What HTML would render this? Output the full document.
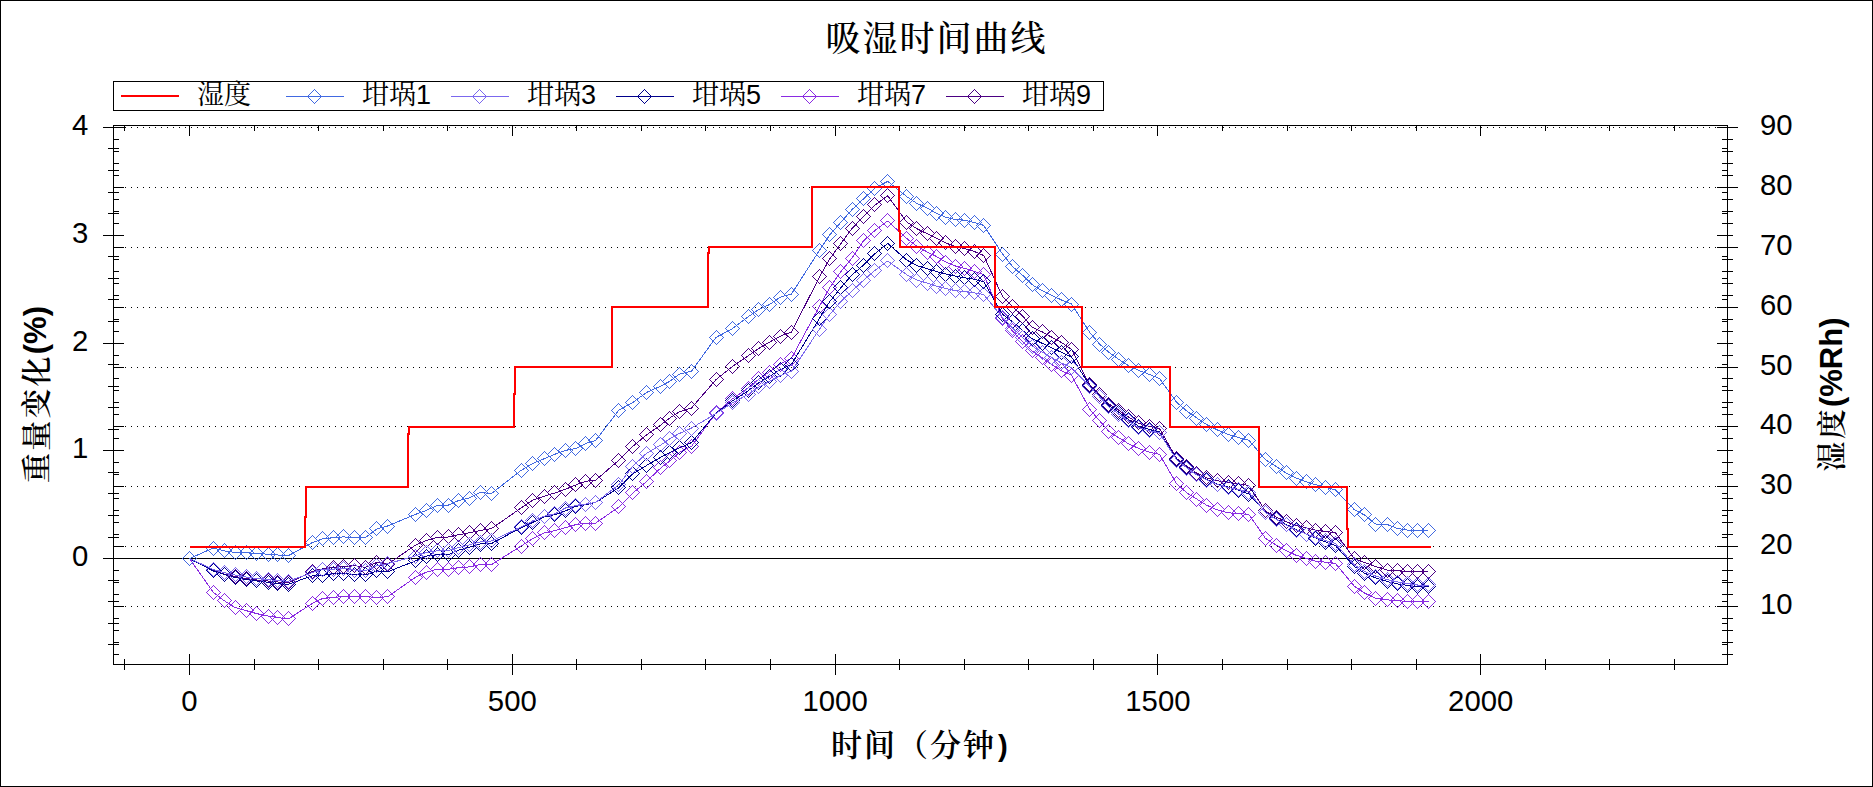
<!DOCTYPE html>
<html lang="zh"><head><meta charset="utf-8"><title>吸湿时间曲线</title>
<style>html,body{margin:0;padding:0;background:#fff;}svg{display:block;}text{font-family:"Liberation Sans","Noto Serif CJK SC",sans-serif;fill:#000;}.ser{font-family:"Liberation Sans","Noto Serif CJK SC",serif;}.ax{stroke:#000;stroke-width:1;fill:none;shape-rendering:crispEdges;}.s{fill:none;stroke-width:1;shape-rendering:crispEdges;}</style></head><body>
<svg width="1873" height="787" viewBox="0 0 1873 787">
<rect x="0" y="0" width="1873" height="787" fill="#fff"/>
<rect x="0.5" y="0.5" width="1872" height="786" class="ax"/>
<text x="825.5" y="51" font-size="35" letter-spacing="2" font-weight="500" class="ser" id="title">吸湿时间曲线</text>
<rect x="113.5" y="81.5" width="990" height="29" class="ax" fill="#fff"/>
<path d="M121 96H179" stroke="#f00" stroke-width="2" shape-rendering="crispEdges"/>
<text x="197" y="104" font-size="27" class="ser lg">湿度</text>
<g class="s" stroke="#4169E1"><path d="M286 96.5H344"/><path d="M307.5 96.5L314.5 89.5L321.5 96.5L314.5 103.5Z"/></g>
<text x="362" y="104" font-size="27" class="ser lg">坩埚1</text>
<g class="s" stroke="#7B68EE"><path d="M451 96.5H509"/><path d="M472.5 96.5L479.5 89.5L486.5 96.5L479.5 103.5Z"/></g>
<text x="527" y="104" font-size="27" class="ser lg">坩埚3</text>
<g class="s" stroke="#00008B"><path d="M616 96.5H674"/><path d="M637.5 96.5L644.5 89.5L651.5 96.5L644.5 103.5Z"/></g>
<text x="692" y="104" font-size="27" class="ser lg">坩埚5</text>
<g class="s" stroke="#8A2BE2"><path d="M781 96.5H839"/><path d="M802.5 96.5L809.5 89.5L816.5 96.5L809.5 103.5Z"/></g>
<text x="857" y="104" font-size="27" class="ser lg">坩埚7</text>
<g class="s" stroke="#4B0082"><path d="M946 96.5H1004"/><path d="M967.5 96.5L974.5 89.5L981.5 96.5L974.5 103.5Z"/></g>
<text x="1022" y="104" font-size="27" class="ser lg">坩埚9</text>
<path d="M125 606.5H1717M125 546.5H1717M125 486.5H1717M125 426.5H1717M125 367.5H1717M125 307.5H1717M125 247.5H1717M125 187.5H1717M125 127.5H1717" class="ax" stroke-dasharray="1 5"/>
<rect x="113.5" y="125.5" width="1614.0" height="539.0" class="ax"/>
<path d="M108 644.5H119M1722 644.5H1728M108 623.5H119M1722 623.5H1728M108 601.5H119M1722 601.5H1728M108 580.5H119M1722 580.5H1728M103 558.5H124M1717 558.5H1728M108 537.5H119M1722 537.5H1728M108 515.5H119M1722 515.5H1728M108 493.5H119M1722 493.5H1728M108 472.5H119M1722 472.5H1728M103 450.5H124M1717 450.5H1728M108 429.5H119M1722 429.5H1728M108 407.5H119M1722 407.5H1728M108 386.5H119M1722 386.5H1728M108 364.5H119M1722 364.5H1728M103 343.5H124M1717 343.5H1728M108 321.5H119M1722 321.5H1728M108 299.5H119M1722 299.5H1728M108 278.5H119M1722 278.5H1728M108 256.5H119M1722 256.5H1728M103 235.5H124M1717 235.5H1728M108 213.5H119M1722 213.5H1728M108 192.5H119M1722 192.5H1728M108 170.5H119M1722 170.5H1728M108 148.5H119M1722 148.5H1728M103 127.5H124M1717 127.5H1728M113 654.5H119M1722 654.5H1733M113 642.5H119M1722 642.5H1733M113 630.5H119M1722 630.5H1733M113 618.5H119M1722 618.5H1733M113 606.5H124M1717 606.5H1738M113 594.5H119M1722 594.5H1733M113 582.5H119M1722 582.5H1733M113 570.5H119M1722 570.5H1733M113 558.5H119M1722 558.5H1733M113 546.5H124M1717 546.5H1738M113 534.5H119M1722 534.5H1733M113 522.5H119M1722 522.5H1733M113 510.5H119M1722 510.5H1733M113 498.5H119M1722 498.5H1733M113 486.5H124M1717 486.5H1738M113 474.5H119M1722 474.5H1733M113 462.5H119M1722 462.5H1733M113 450.5H119M1722 450.5H1733M113 438.5H119M1722 438.5H1733M113 426.5H124M1717 426.5H1738M113 414.5H119M1722 414.5H1733M113 402.5H119M1722 402.5H1733M113 390.5H119M1722 390.5H1733M113 378.5H119M1722 378.5H1733M113 367.5H124M1717 367.5H1738M113 355.5H119M1722 355.5H1733M113 343.5H119M1722 343.5H1733M113 331.5H119M1722 331.5H1733M113 319.5H119M1722 319.5H1733M113 307.5H124M1717 307.5H1738M113 295.5H119M1722 295.5H1733M113 283.5H119M1722 283.5H1733M113 271.5H119M1722 271.5H1733M113 259.5H119M1722 259.5H1733M113 247.5H124M1717 247.5H1738M113 235.5H119M1722 235.5H1733M113 223.5H119M1722 223.5H1733M113 211.5H119M1722 211.5H1733M113 199.5H119M1722 199.5H1733M113 187.5H124M1717 187.5H1738M113 175.5H119M1722 175.5H1733M113 163.5H119M1722 163.5H1733M113 151.5H119M1722 151.5H1733M113 139.5H119M1722 139.5H1733M113 127.5H124M1717 127.5H1738M124.5 659V670M124.5 125V131M189.5 654V675M189.5 125V136M254.5 659V670M254.5 125V131M318.5 659V670M318.5 125V131M383.5 659V670M383.5 125V131M447.5 659V670M447.5 125V131M512.5 654V675M512.5 125V136M576.5 659V670M576.5 125V131M641.5 659V670M641.5 125V131M705.5 659V670M705.5 125V131M770.5 659V670M770.5 125V131M835.5 654V675M835.5 125V136M899.5 659V670M899.5 125V131M964.5 659V670M964.5 125V131M1028.5 659V670M1028.5 125V131M1093.5 659V670M1093.5 125V131M1157.5 654V675M1157.5 125V136M1222.5 659V670M1222.5 125V131M1287.5 659V670M1287.5 125V131M1351.5 659V670M1351.5 125V131M1416.5 659V670M1416.5 125V131M1480.5 654V675M1480.5 125V136M1545.5 659V670M1545.5 125V131M1609.5 659V670M1609.5 125V131M1674.5 659V670M1674.5 125V131" class="ax"/>
<path d="M113 558.5H1728" class="ax"/>
<text x="88.2" y="565.9" font-size="29.3" text-anchor="end">0</text>
<text x="88.2" y="457.9" font-size="29.3" text-anchor="end">1</text>
<text x="88.2" y="350.9" font-size="29.3" text-anchor="end">2</text>
<text x="88.2" y="242.9" font-size="29.3" text-anchor="end">3</text>
<text x="88.2" y="134.9" font-size="29.3" text-anchor="end">4</text>
<text x="1760" y="613.5" font-size="29.3">10</text>
<text x="1760" y="553.5" font-size="29.3">20</text>
<text x="1760" y="493.5" font-size="29.3">30</text>
<text x="1760" y="433.5" font-size="29.3">40</text>
<text x="1760" y="374.5" font-size="29.3">50</text>
<text x="1760" y="314.5" font-size="29.3">60</text>
<text x="1760" y="254.5" font-size="29.3">70</text>
<text x="1760" y="194.5" font-size="29.3">80</text>
<text x="1760" y="134.5" font-size="29.3">90</text>
<text x="189.5" y="711.3" font-size="29.3" text-anchor="middle">0</text>
<text x="512.3" y="711.3" font-size="29.3" text-anchor="middle">500</text>
<text x="835.1" y="711.3" font-size="29.3" text-anchor="middle">1000</text>
<text x="1157.9" y="711.3" font-size="29.3" text-anchor="middle">1500</text>
<text x="1480.7" y="711.3" font-size="29.3" text-anchor="middle">2000</text>
<text x="831" y="756" font-size="31" letter-spacing="2" font-weight="600" class="ser" id="xt">时间（分钟<tspan font-weight="bold" font-size="29.3" letter-spacing="0" dx="2">)</tspan></text>
<text transform="translate(45.5 394.5) rotate(-90)" font-size="30" letter-spacing="2.2" font-weight="600" text-anchor="middle" class="ser" id="ylt"><tspan dy="1">重量变化</tspan><tspan font-weight="bold" font-size="31" letter-spacing="0" dy="-1">(%)</tspan></text>
<text transform="translate(1842 394.5) rotate(-90)" font-size="30" letter-spacing="2.2" font-weight="600" text-anchor="middle" class="ser" id="yrt">湿度<tspan font-weight="bold" font-size="31" letter-spacing="0">(%Rh)</tspan></text>
<g class="s" stroke="#4B0082"><polyline points="189.5,558.5 213.2,570.5 224.2,574.0 235.2,576.5 246.0,578.5 257.0,580.0 268.0,581.0 277.7,582.0 288.3,583.0 312.3,571.4 322.5,569.1 333.3,567.4 343.8,566.5 354.5,565.6 365.4,567.4 376.8,562.5 387.6,564.3 415.2,545.3 426.0,540.7 437.3,537.4 448.2,537.0 458.7,534.7 469.4,532.8 480.1,530.5 491.5,528.6 521.2,507.9 533.0,500.0 544.1,496.2 554.8,493.0 565.4,489.3 575.8,485.0 585.7,481.2 595.6,480.3 619.0,460.1 632.8,446.4 646.5,435.0 661.0,424.8 669.8,418.0 679.3,411.8 691.5,408.0 716.0,379.6 732.3,366.6 748.0,355.9 759.0,348.3 769.3,342.2 780.4,336.1 791.5,332.0 819.5,277.0 829.6,259.0 840.7,243.8 852.0,228.6 863.5,216.4 875.0,205.0 887.7,195.8 906.7,222.0 917.0,228.8 927.3,233.8 936.5,238.4 945.6,243.0 955.5,246.4 965.0,248.6 974.5,251.6 983.7,255.5 1002.5,296.4 1012.5,306.5 1022.6,316.0 1032.0,327.2 1042.0,331.8 1051.6,337.1 1061.3,342.4 1071.5,349.3 1089.8,385.0 1099.7,394.9 1108.9,404.0 1118.6,410.1 1128.4,417.0 1138.3,423.0 1149.5,426.5 1159.5,428.5 1176.7,458.7 1187.0,466.3 1196.8,473.2 1206.6,477.8 1217.1,480.8 1228.2,482.3 1238.4,483.8 1248.8,485.4 1265.5,511.0 1276.5,517.1 1286.0,521.7 1296.0,525.5 1306.2,527.8 1315.8,530.1 1325.6,531.6 1335.3,532.5 1354.3,558.7 1364.5,562.5 1375.5,566.4 1387.7,570.2 1397.6,570.9 1407.6,571.2 1417.5,571.4 1428.5,571.7"/><path d="M182.5 558.5L189.5 551.5L196.5 558.5L189.5 565.5ZM206.5 570.5L213.5 563.5L220.5 570.5L213.5 577.5ZM217.5 574.5L224.5 567.5L231.5 574.5L224.5 581.5ZM228.5 576.5L235.5 569.5L242.5 576.5L235.5 583.5ZM239.5 578.5L246.5 571.5L253.5 578.5L246.5 585.5ZM249.5 580.5L256.5 573.5L263.5 580.5L256.5 587.5ZM261.5 580.5L268.5 573.5L275.5 580.5L268.5 587.5ZM270.5 582.5L277.5 575.5L284.5 582.5L277.5 589.5ZM281.5 582.5L288.5 575.5L295.5 582.5L288.5 589.5ZM305.5 571.5L312.5 564.5L319.5 571.5L312.5 578.5ZM315.5 569.5L322.5 562.5L329.5 569.5L322.5 576.5ZM326.5 567.5L333.5 560.5L340.5 567.5L333.5 574.5ZM336.5 566.5L343.5 559.5L350.5 566.5L343.5 573.5ZM347.5 565.5L354.5 558.5L361.5 565.5L354.5 572.5ZM358.5 567.5L365.5 560.5L372.5 567.5L365.5 574.5ZM369.5 562.5L376.5 555.5L383.5 562.5L376.5 569.5ZM380.5 564.5L387.5 557.5L394.5 564.5L387.5 571.5ZM408.5 545.5L415.5 538.5L422.5 545.5L415.5 552.5ZM419.5 540.5L426.5 533.5L433.5 540.5L426.5 547.5ZM430.5 537.5L437.5 530.5L444.5 537.5L437.5 544.5ZM441.5 536.5L448.5 529.5L455.5 536.5L448.5 543.5ZM451.5 534.5L458.5 527.5L465.5 534.5L458.5 541.5ZM462.5 532.5L469.5 525.5L476.5 532.5L469.5 539.5ZM473.5 530.5L480.5 523.5L487.5 530.5L480.5 537.5ZM484.5 528.5L491.5 521.5L498.5 528.5L491.5 535.5ZM514.5 507.5L521.5 500.5L528.5 507.5L521.5 514.5ZM525.5 500.5L532.5 493.5L539.5 500.5L532.5 507.5ZM537.5 496.5L544.5 489.5L551.5 496.5L544.5 503.5ZM547.5 492.5L554.5 485.5L561.5 492.5L554.5 499.5ZM558.5 489.5L565.5 482.5L572.5 489.5L565.5 496.5ZM568.5 484.5L575.5 477.5L582.5 484.5L575.5 491.5ZM578.5 481.5L585.5 474.5L592.5 481.5L585.5 488.5ZM588.5 480.5L595.5 473.5L602.5 480.5L595.5 487.5ZM611.5 460.5L618.5 453.5L625.5 460.5L618.5 467.5ZM625.5 446.5L632.5 439.5L639.5 446.5L632.5 453.5ZM639.5 434.5L646.5 427.5L653.5 434.5L646.5 441.5ZM653.5 424.5L660.5 417.5L667.5 424.5L660.5 431.5ZM662.5 418.5L669.5 411.5L676.5 418.5L669.5 425.5ZM672.5 411.5L679.5 404.5L686.5 411.5L679.5 418.5ZM684.5 408.5L691.5 401.5L698.5 408.5L691.5 415.5ZM709.5 379.5L716.5 372.5L723.5 379.5L716.5 386.5ZM725.5 366.5L732.5 359.5L739.5 366.5L732.5 373.5ZM741.5 355.5L748.5 348.5L755.5 355.5L748.5 362.5ZM751.5 348.5L758.5 341.5L765.5 348.5L758.5 355.5ZM762.5 342.5L769.5 335.5L776.5 342.5L769.5 349.5ZM773.5 336.5L780.5 329.5L787.5 336.5L780.5 343.5ZM784.5 332.5L791.5 325.5L798.5 332.5L791.5 339.5ZM812.5 276.5L819.5 269.5L826.5 276.5L819.5 283.5ZM822.5 258.5L829.5 251.5L836.5 258.5L829.5 265.5ZM833.5 243.5L840.5 236.5L847.5 243.5L840.5 250.5ZM845.5 228.5L852.5 221.5L859.5 228.5L852.5 235.5ZM856.5 216.5L863.5 209.5L870.5 216.5L863.5 223.5ZM867.5 204.5L874.5 197.5L881.5 204.5L874.5 211.5ZM880.5 195.5L887.5 188.5L894.5 195.5L887.5 202.5ZM899.5 222.5L906.5 215.5L913.5 222.5L906.5 229.5ZM909.5 228.5L916.5 221.5L923.5 228.5L916.5 235.5ZM920.5 233.5L927.5 226.5L934.5 233.5L927.5 240.5ZM929.5 238.5L936.5 231.5L943.5 238.5L936.5 245.5ZM938.5 242.5L945.5 235.5L952.5 242.5L945.5 249.5ZM948.5 246.5L955.5 239.5L962.5 246.5L955.5 253.5ZM957.5 248.5L964.5 241.5L971.5 248.5L964.5 255.5ZM967.5 251.5L974.5 244.5L981.5 251.5L974.5 258.5ZM976.5 255.5L983.5 248.5L990.5 255.5L983.5 262.5ZM995.5 296.5L1002.5 289.5L1009.5 296.5L1002.5 303.5ZM1005.5 306.5L1012.5 299.5L1019.5 306.5L1012.5 313.5ZM1015.5 316.5L1022.5 309.5L1029.5 316.5L1022.5 323.5ZM1025.5 327.5L1032.5 320.5L1039.5 327.5L1032.5 334.5ZM1035.5 331.5L1042.5 324.5L1049.5 331.5L1042.5 338.5ZM1044.5 337.5L1051.5 330.5L1058.5 337.5L1051.5 344.5ZM1054.5 342.5L1061.5 335.5L1068.5 342.5L1061.5 349.5ZM1064.5 349.5L1071.5 342.5L1078.5 349.5L1071.5 356.5ZM1082.5 384.5L1089.5 377.5L1096.5 384.5L1089.5 391.5ZM1092.5 394.5L1099.5 387.5L1106.5 394.5L1099.5 401.5ZM1101.5 404.5L1108.5 397.5L1115.5 404.5L1108.5 411.5ZM1111.5 410.5L1118.5 403.5L1125.5 410.5L1118.5 417.5ZM1121.5 416.5L1128.5 409.5L1135.5 416.5L1128.5 423.5ZM1131.5 422.5L1138.5 415.5L1145.5 422.5L1138.5 429.5ZM1142.5 426.5L1149.5 419.5L1156.5 426.5L1149.5 433.5ZM1152.5 428.5L1159.5 421.5L1166.5 428.5L1159.5 435.5ZM1169.5 458.5L1176.5 451.5L1183.5 458.5L1176.5 465.5ZM1179.5 466.5L1186.5 459.5L1193.5 466.5L1186.5 473.5ZM1189.5 473.5L1196.5 466.5L1203.5 473.5L1196.5 480.5ZM1199.5 477.5L1206.5 470.5L1213.5 477.5L1206.5 484.5ZM1210.5 480.5L1217.5 473.5L1224.5 480.5L1217.5 487.5ZM1221.5 482.5L1228.5 475.5L1235.5 482.5L1228.5 489.5ZM1231.5 483.5L1238.5 476.5L1245.5 483.5L1238.5 490.5ZM1241.5 485.5L1248.5 478.5L1255.5 485.5L1248.5 492.5ZM1258.5 510.5L1265.5 503.5L1272.5 510.5L1265.5 517.5ZM1269.5 517.5L1276.5 510.5L1283.5 517.5L1276.5 524.5ZM1279.5 521.5L1286.5 514.5L1293.5 521.5L1286.5 528.5ZM1289.5 525.5L1296.5 518.5L1303.5 525.5L1296.5 532.5ZM1299.5 527.5L1306.5 520.5L1313.5 527.5L1306.5 534.5ZM1308.5 530.5L1315.5 523.5L1322.5 530.5L1315.5 537.5ZM1318.5 531.5L1325.5 524.5L1332.5 531.5L1325.5 538.5ZM1328.5 532.5L1335.5 525.5L1342.5 532.5L1335.5 539.5ZM1347.5 558.5L1354.5 551.5L1361.5 558.5L1354.5 565.5ZM1357.5 562.5L1364.5 555.5L1371.5 562.5L1364.5 569.5ZM1368.5 566.5L1375.5 559.5L1382.5 566.5L1375.5 573.5ZM1380.5 570.5L1387.5 563.5L1394.5 570.5L1387.5 577.5ZM1390.5 570.5L1397.5 563.5L1404.5 570.5L1397.5 577.5ZM1400.5 571.5L1407.5 564.5L1414.5 571.5L1407.5 578.5ZM1410.5 571.5L1417.5 564.5L1424.5 571.5L1417.5 578.5ZM1421.5 571.5L1428.5 564.5L1435.5 571.5L1428.5 578.5Z"/></g>
<g class="s" stroke="#8A2BE2"><polyline points="189.5,558.5 213.2,592.3 224.2,600.7 235.2,607.6 246.0,610.6 257.0,613.7 268.0,616.0 277.7,617.5 288.3,619.0 312.3,603.4 322.5,598.5 333.3,597.4 343.8,596.5 354.5,596.2 365.4,596.6 376.8,597.4 387.6,596.8 415.2,577.5 426.0,572.3 437.3,569.2 448.2,569.2 458.7,567.7 469.4,566.9 480.1,564.6 491.5,564.6 521.2,546.0 533.0,538.4 544.1,533.0 554.8,530.7 565.4,527.7 575.8,524.6 585.7,523.1 595.6,523.1 619.0,506.9 632.8,493.0 646.5,481.5 661.0,467.8 669.8,460.9 679.3,452.5 691.5,446.4 716.0,413.0 732.3,399.0 748.0,388.0 759.0,379.0 769.3,372.0 780.4,364.0 791.5,358.2 819.5,306.2 829.6,287.9 840.7,271.9 852.0,258.0 863.5,240.8 875.0,230.5 887.7,221.0 906.7,238.5 917.0,246.5 927.3,252.0 936.5,256.5 945.6,262.0 955.5,266.0 965.0,268.5 974.5,271.5 983.7,274.7 1002.5,318.8 1012.5,331.0 1022.6,341.7 1032.0,350.8 1042.0,357.7 1051.6,364.5 1061.3,370.6 1071.5,375.2 1089.8,409.4 1099.7,420.8 1108.9,431.5 1118.6,437.6 1128.4,443.7 1138.3,448.3 1149.5,452.1 1159.5,454.4 1176.7,483.9 1187.0,493.0 1196.8,499.1 1206.6,505.2 1217.1,509.8 1228.2,512.8 1238.4,513.6 1248.8,514.4 1265.5,538.4 1276.5,545.3 1286.0,550.6 1296.0,555.2 1306.2,558.3 1315.8,561.3 1325.6,562.1 1335.3,563.4 1354.3,586.2 1364.5,593.0 1375.5,598.4 1387.7,599.9 1397.6,600.7 1407.6,601.4 1417.5,601.4 1428.5,601.9"/><path d="M182.5 558.5L189.5 551.5L196.5 558.5L189.5 565.5ZM206.5 592.5L213.5 585.5L220.5 592.5L213.5 599.5ZM217.5 600.5L224.5 593.5L231.5 600.5L224.5 607.5ZM228.5 607.5L235.5 600.5L242.5 607.5L235.5 614.5ZM239.5 610.5L246.5 603.5L253.5 610.5L246.5 617.5ZM249.5 613.5L256.5 606.5L263.5 613.5L256.5 620.5ZM261.5 616.5L268.5 609.5L275.5 616.5L268.5 623.5ZM270.5 617.5L277.5 610.5L284.5 617.5L277.5 624.5ZM281.5 618.5L288.5 611.5L295.5 618.5L288.5 625.5ZM305.5 603.5L312.5 596.5L319.5 603.5L312.5 610.5ZM315.5 598.5L322.5 591.5L329.5 598.5L322.5 605.5ZM326.5 597.5L333.5 590.5L340.5 597.5L333.5 604.5ZM336.5 596.5L343.5 589.5L350.5 596.5L343.5 603.5ZM347.5 596.5L354.5 589.5L361.5 596.5L354.5 603.5ZM358.5 596.5L365.5 589.5L372.5 596.5L365.5 603.5ZM369.5 597.5L376.5 590.5L383.5 597.5L376.5 604.5ZM380.5 596.5L387.5 589.5L394.5 596.5L387.5 603.5ZM408.5 577.5L415.5 570.5L422.5 577.5L415.5 584.5ZM419.5 572.5L426.5 565.5L433.5 572.5L426.5 579.5ZM430.5 569.5L437.5 562.5L444.5 569.5L437.5 576.5ZM441.5 569.5L448.5 562.5L455.5 569.5L448.5 576.5ZM451.5 567.5L458.5 560.5L465.5 567.5L458.5 574.5ZM462.5 566.5L469.5 559.5L476.5 566.5L469.5 573.5ZM473.5 564.5L480.5 557.5L487.5 564.5L480.5 571.5ZM484.5 564.5L491.5 557.5L498.5 564.5L491.5 571.5ZM514.5 546.5L521.5 539.5L528.5 546.5L521.5 553.5ZM525.5 538.5L532.5 531.5L539.5 538.5L532.5 545.5ZM537.5 532.5L544.5 525.5L551.5 532.5L544.5 539.5ZM547.5 530.5L554.5 523.5L561.5 530.5L554.5 537.5ZM558.5 527.5L565.5 520.5L572.5 527.5L565.5 534.5ZM568.5 524.5L575.5 517.5L582.5 524.5L575.5 531.5ZM578.5 523.5L585.5 516.5L592.5 523.5L585.5 530.5ZM588.5 523.5L595.5 516.5L602.5 523.5L595.5 530.5ZM611.5 506.5L618.5 499.5L625.5 506.5L618.5 513.5ZM625.5 492.5L632.5 485.5L639.5 492.5L632.5 499.5ZM639.5 481.5L646.5 474.5L653.5 481.5L646.5 488.5ZM653.5 467.5L660.5 460.5L667.5 467.5L660.5 474.5ZM662.5 460.5L669.5 453.5L676.5 460.5L669.5 467.5ZM672.5 452.5L679.5 445.5L686.5 452.5L679.5 459.5ZM684.5 446.5L691.5 439.5L698.5 446.5L691.5 453.5ZM709.5 412.5L716.5 405.5L723.5 412.5L716.5 419.5ZM725.5 398.5L732.5 391.5L739.5 398.5L732.5 405.5ZM741.5 388.5L748.5 381.5L755.5 388.5L748.5 395.5ZM751.5 378.5L758.5 371.5L765.5 378.5L758.5 385.5ZM762.5 372.5L769.5 365.5L776.5 372.5L769.5 379.5ZM773.5 364.5L780.5 357.5L787.5 364.5L780.5 371.5ZM784.5 358.5L791.5 351.5L798.5 358.5L791.5 365.5ZM812.5 306.5L819.5 299.5L826.5 306.5L819.5 313.5ZM822.5 287.5L829.5 280.5L836.5 287.5L829.5 294.5ZM833.5 271.5L840.5 264.5L847.5 271.5L840.5 278.5ZM845.5 258.5L852.5 251.5L859.5 258.5L852.5 265.5ZM856.5 240.5L863.5 233.5L870.5 240.5L863.5 247.5ZM867.5 230.5L874.5 223.5L881.5 230.5L874.5 237.5ZM880.5 220.5L887.5 213.5L894.5 220.5L887.5 227.5ZM899.5 238.5L906.5 231.5L913.5 238.5L906.5 245.5ZM909.5 246.5L916.5 239.5L923.5 246.5L916.5 253.5ZM920.5 252.5L927.5 245.5L934.5 252.5L927.5 259.5ZM929.5 256.5L936.5 249.5L943.5 256.5L936.5 263.5ZM938.5 262.5L945.5 255.5L952.5 262.5L945.5 269.5ZM948.5 266.5L955.5 259.5L962.5 266.5L955.5 273.5ZM957.5 268.5L964.5 261.5L971.5 268.5L964.5 275.5ZM967.5 271.5L974.5 264.5L981.5 271.5L974.5 278.5ZM976.5 274.5L983.5 267.5L990.5 274.5L983.5 281.5ZM995.5 318.5L1002.5 311.5L1009.5 318.5L1002.5 325.5ZM1005.5 330.5L1012.5 323.5L1019.5 330.5L1012.5 337.5ZM1015.5 341.5L1022.5 334.5L1029.5 341.5L1022.5 348.5ZM1025.5 350.5L1032.5 343.5L1039.5 350.5L1032.5 357.5ZM1035.5 357.5L1042.5 350.5L1049.5 357.5L1042.5 364.5ZM1044.5 364.5L1051.5 357.5L1058.5 364.5L1051.5 371.5ZM1054.5 370.5L1061.5 363.5L1068.5 370.5L1061.5 377.5ZM1064.5 375.5L1071.5 368.5L1078.5 375.5L1071.5 382.5ZM1082.5 409.5L1089.5 402.5L1096.5 409.5L1089.5 416.5ZM1092.5 420.5L1099.5 413.5L1106.5 420.5L1099.5 427.5ZM1101.5 431.5L1108.5 424.5L1115.5 431.5L1108.5 438.5ZM1111.5 437.5L1118.5 430.5L1125.5 437.5L1118.5 444.5ZM1121.5 443.5L1128.5 436.5L1135.5 443.5L1128.5 450.5ZM1131.5 448.5L1138.5 441.5L1145.5 448.5L1138.5 455.5ZM1142.5 452.5L1149.5 445.5L1156.5 452.5L1149.5 459.5ZM1152.5 454.5L1159.5 447.5L1166.5 454.5L1159.5 461.5ZM1169.5 483.5L1176.5 476.5L1183.5 483.5L1176.5 490.5ZM1179.5 492.5L1186.5 485.5L1193.5 492.5L1186.5 499.5ZM1189.5 499.5L1196.5 492.5L1203.5 499.5L1196.5 506.5ZM1199.5 505.5L1206.5 498.5L1213.5 505.5L1206.5 512.5ZM1210.5 509.5L1217.5 502.5L1224.5 509.5L1217.5 516.5ZM1221.5 512.5L1228.5 505.5L1235.5 512.5L1228.5 519.5ZM1231.5 513.5L1238.5 506.5L1245.5 513.5L1238.5 520.5ZM1241.5 514.5L1248.5 507.5L1255.5 514.5L1248.5 521.5ZM1258.5 538.5L1265.5 531.5L1272.5 538.5L1265.5 545.5ZM1269.5 545.5L1276.5 538.5L1283.5 545.5L1276.5 552.5ZM1279.5 550.5L1286.5 543.5L1293.5 550.5L1286.5 557.5ZM1289.5 555.5L1296.5 548.5L1303.5 555.5L1296.5 562.5ZM1299.5 558.5L1306.5 551.5L1313.5 558.5L1306.5 565.5ZM1308.5 561.5L1315.5 554.5L1322.5 561.5L1315.5 568.5ZM1318.5 562.5L1325.5 555.5L1332.5 562.5L1325.5 569.5ZM1328.5 563.5L1335.5 556.5L1342.5 563.5L1335.5 570.5ZM1347.5 586.5L1354.5 579.5L1361.5 586.5L1354.5 593.5ZM1357.5 592.5L1364.5 585.5L1371.5 592.5L1364.5 599.5ZM1368.5 598.5L1375.5 591.5L1382.5 598.5L1375.5 605.5ZM1380.5 599.5L1387.5 592.5L1394.5 599.5L1387.5 606.5ZM1390.5 600.5L1397.5 593.5L1404.5 600.5L1397.5 607.5ZM1400.5 601.5L1407.5 594.5L1414.5 601.5L1407.5 608.5ZM1410.5 601.5L1417.5 594.5L1424.5 601.5L1417.5 608.5ZM1421.5 601.5L1428.5 594.5L1435.5 601.5L1428.5 608.5Z"/></g>
<g class="s" stroke="#00008B"><polyline points="189.5,558.5 213.2,570.9 224.2,574.5 235.2,577.5 246.0,579.5 257.0,581.0 268.0,582.3 277.7,583.4 288.3,584.3 312.3,575.8 322.5,575.4 333.3,573.6 343.8,573.6 354.5,574.5 365.4,574.9 376.8,570.9 387.6,571.8 415.2,561.0 426.0,556.2 437.3,554.7 448.2,554.7 458.7,550.1 469.4,547.1 480.1,544.0 491.5,543.5 521.2,527.7 533.0,522.3 544.1,517.0 554.8,514.7 565.4,510.9 575.8,506.3 585.7,504.8 595.6,502.5 619.0,487.6 632.8,473.9 646.5,465.5 661.0,457.1 669.8,452.5 679.3,447.9 691.5,442.6 716.0,413.1 732.3,400.9 748.0,391.0 759.0,382.6 769.3,376.5 780.4,369.6 791.5,364.3 819.5,318.4 829.6,301.7 840.7,287.9 852.0,275.0 863.5,265.1 875.0,253.6 887.7,243.4 906.7,260.0 917.0,265.6 927.3,268.8 936.5,271.5 945.6,274.0 955.5,276.2 965.0,277.8 974.5,279.3 983.7,281.6 1002.5,314.2 1012.5,321.8 1022.6,330.5 1032.0,338.6 1042.0,343.2 1051.6,347.8 1061.3,352.3 1071.5,356.9 1089.8,385.5 1099.7,396.0 1108.9,405.5 1118.6,412.0 1128.4,419.5 1138.3,426.0 1149.5,429.5 1159.5,432.0 1176.7,459.5 1187.0,467.5 1196.8,474.5 1206.6,479.5 1217.1,484.0 1228.2,487.0 1238.4,490.0 1248.8,494.0 1265.5,512.0 1276.5,519.0 1286.0,524.5 1296.0,529.5 1306.2,534.0 1315.8,538.0 1325.6,542.0 1335.3,545.5 1354.3,566.4 1364.5,573.2 1375.5,577.8 1387.7,581.6 1397.6,583.9 1407.6,585.4 1417.5,586.9 1428.5,586.9"/><path d="M182.5 558.5L189.5 551.5L196.5 558.5L189.5 565.5ZM206.5 570.5L213.5 563.5L220.5 570.5L213.5 577.5ZM217.5 574.5L224.5 567.5L231.5 574.5L224.5 581.5ZM228.5 577.5L235.5 570.5L242.5 577.5L235.5 584.5ZM239.5 579.5L246.5 572.5L253.5 579.5L246.5 586.5ZM249.5 580.5L256.5 573.5L263.5 580.5L256.5 587.5ZM261.5 582.5L268.5 575.5L275.5 582.5L268.5 589.5ZM270.5 583.5L277.5 576.5L284.5 583.5L277.5 590.5ZM281.5 584.5L288.5 577.5L295.5 584.5L288.5 591.5ZM305.5 575.5L312.5 568.5L319.5 575.5L312.5 582.5ZM315.5 575.5L322.5 568.5L329.5 575.5L322.5 582.5ZM326.5 573.5L333.5 566.5L340.5 573.5L333.5 580.5ZM336.5 573.5L343.5 566.5L350.5 573.5L343.5 580.5ZM347.5 574.5L354.5 567.5L361.5 574.5L354.5 581.5ZM358.5 574.5L365.5 567.5L372.5 574.5L365.5 581.5ZM369.5 570.5L376.5 563.5L383.5 570.5L376.5 577.5ZM380.5 571.5L387.5 564.5L394.5 571.5L387.5 578.5ZM408.5 560.5L415.5 553.5L422.5 560.5L415.5 567.5ZM419.5 556.5L426.5 549.5L433.5 556.5L426.5 563.5ZM430.5 554.5L437.5 547.5L444.5 554.5L437.5 561.5ZM441.5 554.5L448.5 547.5L455.5 554.5L448.5 561.5ZM451.5 550.5L458.5 543.5L465.5 550.5L458.5 557.5ZM462.5 547.5L469.5 540.5L476.5 547.5L469.5 554.5ZM473.5 544.5L480.5 537.5L487.5 544.5L480.5 551.5ZM484.5 543.5L491.5 536.5L498.5 543.5L491.5 550.5ZM514.5 527.5L521.5 520.5L528.5 527.5L521.5 534.5ZM525.5 522.5L532.5 515.5L539.5 522.5L532.5 529.5ZM537.5 516.5L544.5 509.5L551.5 516.5L544.5 523.5ZM547.5 514.5L554.5 507.5L561.5 514.5L554.5 521.5ZM558.5 510.5L565.5 503.5L572.5 510.5L565.5 517.5ZM568.5 506.5L575.5 499.5L582.5 506.5L575.5 513.5ZM578.5 504.5L585.5 497.5L592.5 504.5L585.5 511.5ZM588.5 502.5L595.5 495.5L602.5 502.5L595.5 509.5ZM611.5 487.5L618.5 480.5L625.5 487.5L618.5 494.5ZM625.5 473.5L632.5 466.5L639.5 473.5L632.5 480.5ZM639.5 465.5L646.5 458.5L653.5 465.5L646.5 472.5ZM653.5 457.5L660.5 450.5L667.5 457.5L660.5 464.5ZM662.5 452.5L669.5 445.5L676.5 452.5L669.5 459.5ZM672.5 447.5L679.5 440.5L686.5 447.5L679.5 454.5ZM684.5 442.5L691.5 435.5L698.5 442.5L691.5 449.5ZM709.5 413.5L716.5 406.5L723.5 413.5L716.5 420.5ZM725.5 400.5L732.5 393.5L739.5 400.5L732.5 407.5ZM741.5 390.5L748.5 383.5L755.5 390.5L748.5 397.5ZM751.5 382.5L758.5 375.5L765.5 382.5L758.5 389.5ZM762.5 376.5L769.5 369.5L776.5 376.5L769.5 383.5ZM773.5 369.5L780.5 362.5L787.5 369.5L780.5 376.5ZM784.5 364.5L791.5 357.5L798.5 364.5L791.5 371.5ZM812.5 318.5L819.5 311.5L826.5 318.5L819.5 325.5ZM822.5 301.5L829.5 294.5L836.5 301.5L829.5 308.5ZM833.5 287.5L840.5 280.5L847.5 287.5L840.5 294.5ZM845.5 274.5L852.5 267.5L859.5 274.5L852.5 281.5ZM856.5 265.5L863.5 258.5L870.5 265.5L863.5 272.5ZM867.5 253.5L874.5 246.5L881.5 253.5L874.5 260.5ZM880.5 243.5L887.5 236.5L894.5 243.5L887.5 250.5ZM899.5 260.5L906.5 253.5L913.5 260.5L906.5 267.5ZM909.5 265.5L916.5 258.5L923.5 265.5L916.5 272.5ZM920.5 268.5L927.5 261.5L934.5 268.5L927.5 275.5ZM929.5 271.5L936.5 264.5L943.5 271.5L936.5 278.5ZM938.5 274.5L945.5 267.5L952.5 274.5L945.5 281.5ZM948.5 276.5L955.5 269.5L962.5 276.5L955.5 283.5ZM957.5 277.5L964.5 270.5L971.5 277.5L964.5 284.5ZM967.5 279.5L974.5 272.5L981.5 279.5L974.5 286.5ZM976.5 281.5L983.5 274.5L990.5 281.5L983.5 288.5ZM995.5 314.5L1002.5 307.5L1009.5 314.5L1002.5 321.5ZM1005.5 321.5L1012.5 314.5L1019.5 321.5L1012.5 328.5ZM1015.5 330.5L1022.5 323.5L1029.5 330.5L1022.5 337.5ZM1025.5 338.5L1032.5 331.5L1039.5 338.5L1032.5 345.5ZM1035.5 343.5L1042.5 336.5L1049.5 343.5L1042.5 350.5ZM1044.5 347.5L1051.5 340.5L1058.5 347.5L1051.5 354.5ZM1054.5 352.5L1061.5 345.5L1068.5 352.5L1061.5 359.5ZM1064.5 356.5L1071.5 349.5L1078.5 356.5L1071.5 363.5ZM1082.5 385.5L1089.5 378.5L1096.5 385.5L1089.5 392.5ZM1092.5 396.5L1099.5 389.5L1106.5 396.5L1099.5 403.5ZM1101.5 405.5L1108.5 398.5L1115.5 405.5L1108.5 412.5ZM1111.5 412.5L1118.5 405.5L1125.5 412.5L1118.5 419.5ZM1121.5 419.5L1128.5 412.5L1135.5 419.5L1128.5 426.5ZM1131.5 426.5L1138.5 419.5L1145.5 426.5L1138.5 433.5ZM1142.5 429.5L1149.5 422.5L1156.5 429.5L1149.5 436.5ZM1152.5 432.5L1159.5 425.5L1166.5 432.5L1159.5 439.5ZM1169.5 459.5L1176.5 452.5L1183.5 459.5L1176.5 466.5ZM1179.5 467.5L1186.5 460.5L1193.5 467.5L1186.5 474.5ZM1189.5 474.5L1196.5 467.5L1203.5 474.5L1196.5 481.5ZM1199.5 479.5L1206.5 472.5L1213.5 479.5L1206.5 486.5ZM1210.5 484.5L1217.5 477.5L1224.5 484.5L1217.5 491.5ZM1221.5 486.5L1228.5 479.5L1235.5 486.5L1228.5 493.5ZM1231.5 490.5L1238.5 483.5L1245.5 490.5L1238.5 497.5ZM1241.5 494.5L1248.5 487.5L1255.5 494.5L1248.5 501.5ZM1258.5 512.5L1265.5 505.5L1272.5 512.5L1265.5 519.5ZM1269.5 518.5L1276.5 511.5L1283.5 518.5L1276.5 525.5ZM1279.5 524.5L1286.5 517.5L1293.5 524.5L1286.5 531.5ZM1289.5 529.5L1296.5 522.5L1303.5 529.5L1296.5 536.5ZM1299.5 534.5L1306.5 527.5L1313.5 534.5L1306.5 541.5ZM1308.5 538.5L1315.5 531.5L1322.5 538.5L1315.5 545.5ZM1318.5 542.5L1325.5 535.5L1332.5 542.5L1325.5 549.5ZM1328.5 545.5L1335.5 538.5L1342.5 545.5L1335.5 552.5ZM1347.5 566.5L1354.5 559.5L1361.5 566.5L1354.5 573.5ZM1357.5 573.5L1364.5 566.5L1371.5 573.5L1364.5 580.5ZM1368.5 577.5L1375.5 570.5L1382.5 577.5L1375.5 584.5ZM1380.5 581.5L1387.5 574.5L1394.5 581.5L1387.5 588.5ZM1390.5 583.5L1397.5 576.5L1404.5 583.5L1397.5 590.5ZM1400.5 585.5L1407.5 578.5L1414.5 585.5L1407.5 592.5ZM1410.5 586.5L1417.5 579.5L1424.5 586.5L1417.5 593.5ZM1421.5 586.5L1428.5 579.5L1435.5 586.5L1428.5 593.5Z"/></g>
<g class="s" stroke="#7B68EE"><polyline points="189.5,558.5 213.2,569.4 224.2,572.5 235.2,575.0 246.0,577.0 257.0,578.5 268.0,579.6 277.7,580.5 288.3,581.2 312.3,572.7 322.5,569.1 333.3,569.1 343.8,568.3 354.5,570.0 365.4,570.9 376.8,565.6 387.6,563.8 415.2,556.0 426.0,552.5 437.3,550.8 448.2,550.5 458.7,547.5 469.4,544.8 480.1,542.0 491.5,541.0 521.2,527.0 533.0,520.8 544.1,516.2 554.8,513.9 565.4,508.0 575.8,505.5 585.7,504.0 595.6,502.5 619.0,484.5 632.8,466.2 646.5,453.3 661.0,444.9 669.8,438.8 679.3,433.5 691.5,428.1 716.0,413.5 732.3,403.0 748.0,394.5 759.0,387.0 769.3,381.5 780.4,375.5 791.5,371.2 819.5,329.1 829.6,314.6 840.7,301.7 852.0,291.0 863.5,280.3 875.0,270.4 887.7,261.0 906.7,274.7 917.0,280.1 927.3,283.1 936.5,286.2 945.6,288.4 955.5,290.7 965.0,291.5 974.5,293.0 983.7,294.5 1002.5,317.5 1012.5,328.0 1022.6,337.5 1032.0,346.0 1042.0,352.0 1051.6,357.5 1061.3,363.0 1071.5,367.6 1089.8,386.5 1099.7,397.0 1108.9,407.0 1118.6,414.0 1128.4,421.0 1138.3,427.5 1149.5,431.0 1159.5,433.0 1176.7,460.0 1187.0,468.0 1196.8,475.0 1206.6,480.0 1217.1,484.5 1228.2,487.5 1238.4,489.5 1248.8,492.0 1265.5,512.5 1276.5,519.5 1286.0,525.0 1296.0,530.0 1306.2,534.0 1315.8,537.5 1325.6,540.5 1335.3,543.5 1354.3,565.0 1364.5,571.5 1375.5,576.0 1387.7,579.8 1397.6,582.0 1407.6,583.5 1417.5,585.0 1428.5,585.0"/><path d="M182.5 558.5L189.5 551.5L196.5 558.5L189.5 565.5ZM206.5 569.5L213.5 562.5L220.5 569.5L213.5 576.5ZM217.5 572.5L224.5 565.5L231.5 572.5L224.5 579.5ZM228.5 574.5L235.5 567.5L242.5 574.5L235.5 581.5ZM239.5 576.5L246.5 569.5L253.5 576.5L246.5 583.5ZM249.5 578.5L256.5 571.5L263.5 578.5L256.5 585.5ZM261.5 579.5L268.5 572.5L275.5 579.5L268.5 586.5ZM270.5 580.5L277.5 573.5L284.5 580.5L277.5 587.5ZM281.5 581.5L288.5 574.5L295.5 581.5L288.5 588.5ZM305.5 572.5L312.5 565.5L319.5 572.5L312.5 579.5ZM315.5 569.5L322.5 562.5L329.5 569.5L322.5 576.5ZM326.5 569.5L333.5 562.5L340.5 569.5L333.5 576.5ZM336.5 568.5L343.5 561.5L350.5 568.5L343.5 575.5ZM347.5 570.5L354.5 563.5L361.5 570.5L354.5 577.5ZM358.5 570.5L365.5 563.5L372.5 570.5L365.5 577.5ZM369.5 565.5L376.5 558.5L383.5 565.5L376.5 572.5ZM380.5 563.5L387.5 556.5L394.5 563.5L387.5 570.5ZM408.5 556.5L415.5 549.5L422.5 556.5L415.5 563.5ZM419.5 552.5L426.5 545.5L433.5 552.5L426.5 559.5ZM430.5 550.5L437.5 543.5L444.5 550.5L437.5 557.5ZM441.5 550.5L448.5 543.5L455.5 550.5L448.5 557.5ZM451.5 547.5L458.5 540.5L465.5 547.5L458.5 554.5ZM462.5 544.5L469.5 537.5L476.5 544.5L469.5 551.5ZM473.5 542.5L480.5 535.5L487.5 542.5L480.5 549.5ZM484.5 540.5L491.5 533.5L498.5 540.5L491.5 547.5ZM514.5 526.5L521.5 519.5L528.5 526.5L521.5 533.5ZM525.5 520.5L532.5 513.5L539.5 520.5L532.5 527.5ZM537.5 516.5L544.5 509.5L551.5 516.5L544.5 523.5ZM547.5 513.5L554.5 506.5L561.5 513.5L554.5 520.5ZM558.5 508.5L565.5 501.5L572.5 508.5L565.5 515.5ZM568.5 505.5L575.5 498.5L582.5 505.5L575.5 512.5ZM578.5 504.5L585.5 497.5L592.5 504.5L585.5 511.5ZM588.5 502.5L595.5 495.5L602.5 502.5L595.5 509.5ZM611.5 484.5L618.5 477.5L625.5 484.5L618.5 491.5ZM625.5 466.5L632.5 459.5L639.5 466.5L632.5 473.5ZM639.5 453.5L646.5 446.5L653.5 453.5L646.5 460.5ZM653.5 444.5L660.5 437.5L667.5 444.5L660.5 451.5ZM662.5 438.5L669.5 431.5L676.5 438.5L669.5 445.5ZM672.5 433.5L679.5 426.5L686.5 433.5L679.5 440.5ZM684.5 428.5L691.5 421.5L698.5 428.5L691.5 435.5ZM709.5 413.5L716.5 406.5L723.5 413.5L716.5 420.5ZM725.5 402.5L732.5 395.5L739.5 402.5L732.5 409.5ZM741.5 394.5L748.5 387.5L755.5 394.5L748.5 401.5ZM751.5 386.5L758.5 379.5L765.5 386.5L758.5 393.5ZM762.5 381.5L769.5 374.5L776.5 381.5L769.5 388.5ZM773.5 375.5L780.5 368.5L787.5 375.5L780.5 382.5ZM784.5 371.5L791.5 364.5L798.5 371.5L791.5 378.5ZM812.5 329.5L819.5 322.5L826.5 329.5L819.5 336.5ZM822.5 314.5L829.5 307.5L836.5 314.5L829.5 321.5ZM833.5 301.5L840.5 294.5L847.5 301.5L840.5 308.5ZM845.5 290.5L852.5 283.5L859.5 290.5L852.5 297.5ZM856.5 280.5L863.5 273.5L870.5 280.5L863.5 287.5ZM867.5 270.5L874.5 263.5L881.5 270.5L874.5 277.5ZM880.5 260.5L887.5 253.5L894.5 260.5L887.5 267.5ZM899.5 274.5L906.5 267.5L913.5 274.5L906.5 281.5ZM909.5 280.5L916.5 273.5L923.5 280.5L916.5 287.5ZM920.5 283.5L927.5 276.5L934.5 283.5L927.5 290.5ZM929.5 286.5L936.5 279.5L943.5 286.5L936.5 293.5ZM938.5 288.5L945.5 281.5L952.5 288.5L945.5 295.5ZM948.5 290.5L955.5 283.5L962.5 290.5L955.5 297.5ZM957.5 291.5L964.5 284.5L971.5 291.5L964.5 298.5ZM967.5 292.5L974.5 285.5L981.5 292.5L974.5 299.5ZM976.5 294.5L983.5 287.5L990.5 294.5L983.5 301.5ZM995.5 317.5L1002.5 310.5L1009.5 317.5L1002.5 324.5ZM1005.5 328.5L1012.5 321.5L1019.5 328.5L1012.5 335.5ZM1015.5 337.5L1022.5 330.5L1029.5 337.5L1022.5 344.5ZM1025.5 346.5L1032.5 339.5L1039.5 346.5L1032.5 353.5ZM1035.5 352.5L1042.5 345.5L1049.5 352.5L1042.5 359.5ZM1044.5 357.5L1051.5 350.5L1058.5 357.5L1051.5 364.5ZM1054.5 362.5L1061.5 355.5L1068.5 362.5L1061.5 369.5ZM1064.5 367.5L1071.5 360.5L1078.5 367.5L1071.5 374.5ZM1082.5 386.5L1089.5 379.5L1096.5 386.5L1089.5 393.5ZM1092.5 396.5L1099.5 389.5L1106.5 396.5L1099.5 403.5ZM1101.5 406.5L1108.5 399.5L1115.5 406.5L1108.5 413.5ZM1111.5 414.5L1118.5 407.5L1125.5 414.5L1118.5 421.5ZM1121.5 420.5L1128.5 413.5L1135.5 420.5L1128.5 427.5ZM1131.5 427.5L1138.5 420.5L1145.5 427.5L1138.5 434.5ZM1142.5 430.5L1149.5 423.5L1156.5 430.5L1149.5 437.5ZM1152.5 432.5L1159.5 425.5L1166.5 432.5L1159.5 439.5ZM1169.5 460.5L1176.5 453.5L1183.5 460.5L1176.5 467.5ZM1179.5 468.5L1186.5 461.5L1193.5 468.5L1186.5 475.5ZM1189.5 474.5L1196.5 467.5L1203.5 474.5L1196.5 481.5ZM1199.5 480.5L1206.5 473.5L1213.5 480.5L1206.5 487.5ZM1210.5 484.5L1217.5 477.5L1224.5 484.5L1217.5 491.5ZM1221.5 487.5L1228.5 480.5L1235.5 487.5L1228.5 494.5ZM1231.5 489.5L1238.5 482.5L1245.5 489.5L1238.5 496.5ZM1241.5 492.5L1248.5 485.5L1255.5 492.5L1248.5 499.5ZM1258.5 512.5L1265.5 505.5L1272.5 512.5L1265.5 519.5ZM1269.5 519.5L1276.5 512.5L1283.5 519.5L1276.5 526.5ZM1279.5 524.5L1286.5 517.5L1293.5 524.5L1286.5 531.5ZM1289.5 530.5L1296.5 523.5L1303.5 530.5L1296.5 537.5ZM1299.5 534.5L1306.5 527.5L1313.5 534.5L1306.5 541.5ZM1308.5 537.5L1315.5 530.5L1322.5 537.5L1315.5 544.5ZM1318.5 540.5L1325.5 533.5L1332.5 540.5L1325.5 547.5ZM1328.5 543.5L1335.5 536.5L1342.5 543.5L1335.5 550.5ZM1347.5 564.5L1354.5 557.5L1361.5 564.5L1354.5 571.5ZM1357.5 571.5L1364.5 564.5L1371.5 571.5L1364.5 578.5ZM1368.5 576.5L1375.5 569.5L1382.5 576.5L1375.5 583.5ZM1380.5 579.5L1387.5 572.5L1394.5 579.5L1387.5 586.5ZM1390.5 582.5L1397.5 575.5L1404.5 582.5L1397.5 589.5ZM1400.5 583.5L1407.5 576.5L1414.5 583.5L1407.5 590.5ZM1410.5 584.5L1417.5 577.5L1424.5 584.5L1417.5 591.5ZM1421.5 584.5L1428.5 577.5L1435.5 584.5L1428.5 591.5Z"/></g>
<g class="s" stroke="#4169E1"><polyline points="189.5,558.5 213.2,548.1 224.2,550.9 235.2,552.4 246.0,552.7 257.0,553.5 268.0,554.2 277.7,555.0 288.3,555.7 312.3,542.6 322.5,538.9 333.3,537.7 343.8,536.9 354.5,537.7 365.4,537.5 376.8,529.0 387.6,526.0 415.2,514.5 426.0,510.5 437.3,505.5 448.2,505.2 458.7,500.5 469.4,498.0 480.1,492.4 491.5,493.5 521.2,470.3 533.0,463.4 544.1,458.8 554.8,454.3 565.4,450.4 575.8,448.5 585.7,443.5 595.6,440.5 619.0,410.0 632.8,402.5 646.5,392.5 661.0,386.0 669.8,381.3 679.3,374.2 691.5,371.2 716.0,337.4 732.3,328.8 748.0,316.9 759.0,309.3 769.3,304.7 780.4,297.1 791.5,294.0 819.5,250.3 829.6,235.0 840.7,222.5 852.0,209.6 863.5,198.9 875.0,188.2 887.7,181.3 906.7,196.6 917.0,203.5 927.3,208.0 936.5,213.4 945.6,217.2 955.5,219.5 965.0,220.2 974.5,222.5 983.7,225.4 1002.5,254.0 1012.5,266.5 1022.6,275.3 1032.0,284.6 1042.0,290.7 1051.6,295.3 1061.3,299.9 1071.5,304.0 1089.8,332.5 1099.7,344.2 1108.9,352.3 1118.6,359.2 1128.4,365.6 1138.3,370.2 1149.5,374.5 1159.5,378.5 1176.7,402.4 1187.0,411.2 1196.8,418.0 1206.6,424.5 1217.1,429.8 1228.2,434.4 1238.4,437.5 1248.8,440.2 1265.5,459.7 1276.5,466.6 1286.0,473.0 1296.0,478.0 1306.2,481.8 1315.8,484.8 1325.6,487.5 1335.3,489.8 1354.3,509.6 1364.5,515.0 1375.5,524.0 1387.7,524.7 1397.6,528.5 1407.6,530.1 1417.5,530.4 1428.5,530.1"/><path d="M182.5 558.5L189.5 551.5L196.5 558.5L189.5 565.5ZM206.5 548.5L213.5 541.5L220.5 548.5L213.5 555.5ZM217.5 550.5L224.5 543.5L231.5 550.5L224.5 557.5ZM228.5 552.5L235.5 545.5L242.5 552.5L235.5 559.5ZM239.5 552.5L246.5 545.5L253.5 552.5L246.5 559.5ZM249.5 553.5L256.5 546.5L263.5 553.5L256.5 560.5ZM261.5 554.5L268.5 547.5L275.5 554.5L268.5 561.5ZM270.5 554.5L277.5 547.5L284.5 554.5L277.5 561.5ZM281.5 555.5L288.5 548.5L295.5 555.5L288.5 562.5ZM305.5 542.5L312.5 535.5L319.5 542.5L312.5 549.5ZM315.5 538.5L322.5 531.5L329.5 538.5L322.5 545.5ZM326.5 537.5L333.5 530.5L340.5 537.5L333.5 544.5ZM336.5 536.5L343.5 529.5L350.5 536.5L343.5 543.5ZM347.5 537.5L354.5 530.5L361.5 537.5L354.5 544.5ZM358.5 537.5L365.5 530.5L372.5 537.5L365.5 544.5ZM369.5 528.5L376.5 521.5L383.5 528.5L376.5 535.5ZM380.5 526.5L387.5 519.5L394.5 526.5L387.5 533.5ZM408.5 514.5L415.5 507.5L422.5 514.5L415.5 521.5ZM419.5 510.5L426.5 503.5L433.5 510.5L426.5 517.5ZM430.5 505.5L437.5 498.5L444.5 505.5L437.5 512.5ZM441.5 505.5L448.5 498.5L455.5 505.5L448.5 512.5ZM451.5 500.5L458.5 493.5L465.5 500.5L458.5 507.5ZM462.5 498.5L469.5 491.5L476.5 498.5L469.5 505.5ZM473.5 492.5L480.5 485.5L487.5 492.5L480.5 499.5ZM484.5 493.5L491.5 486.5L498.5 493.5L491.5 500.5ZM514.5 470.5L521.5 463.5L528.5 470.5L521.5 477.5ZM525.5 463.5L532.5 456.5L539.5 463.5L532.5 470.5ZM537.5 458.5L544.5 451.5L551.5 458.5L544.5 465.5ZM547.5 454.5L554.5 447.5L561.5 454.5L554.5 461.5ZM558.5 450.5L565.5 443.5L572.5 450.5L565.5 457.5ZM568.5 448.5L575.5 441.5L582.5 448.5L575.5 455.5ZM578.5 443.5L585.5 436.5L592.5 443.5L585.5 450.5ZM588.5 440.5L595.5 433.5L602.5 440.5L595.5 447.5ZM611.5 410.5L618.5 403.5L625.5 410.5L618.5 417.5ZM625.5 402.5L632.5 395.5L639.5 402.5L632.5 409.5ZM639.5 392.5L646.5 385.5L653.5 392.5L646.5 399.5ZM653.5 386.5L660.5 379.5L667.5 386.5L660.5 393.5ZM662.5 381.5L669.5 374.5L676.5 381.5L669.5 388.5ZM672.5 374.5L679.5 367.5L686.5 374.5L679.5 381.5ZM684.5 371.5L691.5 364.5L698.5 371.5L691.5 378.5ZM709.5 337.5L716.5 330.5L723.5 337.5L716.5 344.5ZM725.5 328.5L732.5 321.5L739.5 328.5L732.5 335.5ZM741.5 316.5L748.5 309.5L755.5 316.5L748.5 323.5ZM751.5 309.5L758.5 302.5L765.5 309.5L758.5 316.5ZM762.5 304.5L769.5 297.5L776.5 304.5L769.5 311.5ZM773.5 297.5L780.5 290.5L787.5 297.5L780.5 304.5ZM784.5 294.5L791.5 287.5L798.5 294.5L791.5 301.5ZM812.5 250.5L819.5 243.5L826.5 250.5L819.5 257.5ZM822.5 234.5L829.5 227.5L836.5 234.5L829.5 241.5ZM833.5 222.5L840.5 215.5L847.5 222.5L840.5 229.5ZM845.5 209.5L852.5 202.5L859.5 209.5L852.5 216.5ZM856.5 198.5L863.5 191.5L870.5 198.5L863.5 205.5ZM867.5 188.5L874.5 181.5L881.5 188.5L874.5 195.5ZM880.5 181.5L887.5 174.5L894.5 181.5L887.5 188.5ZM899.5 196.5L906.5 189.5L913.5 196.5L906.5 203.5ZM909.5 203.5L916.5 196.5L923.5 203.5L916.5 210.5ZM920.5 208.5L927.5 201.5L934.5 208.5L927.5 215.5ZM929.5 213.5L936.5 206.5L943.5 213.5L936.5 220.5ZM938.5 217.5L945.5 210.5L952.5 217.5L945.5 224.5ZM948.5 219.5L955.5 212.5L962.5 219.5L955.5 226.5ZM957.5 220.5L964.5 213.5L971.5 220.5L964.5 227.5ZM967.5 222.5L974.5 215.5L981.5 222.5L974.5 229.5ZM976.5 225.5L983.5 218.5L990.5 225.5L983.5 232.5ZM995.5 254.5L1002.5 247.5L1009.5 254.5L1002.5 261.5ZM1005.5 266.5L1012.5 259.5L1019.5 266.5L1012.5 273.5ZM1015.5 275.5L1022.5 268.5L1029.5 275.5L1022.5 282.5ZM1025.5 284.5L1032.5 277.5L1039.5 284.5L1032.5 291.5ZM1035.5 290.5L1042.5 283.5L1049.5 290.5L1042.5 297.5ZM1044.5 295.5L1051.5 288.5L1058.5 295.5L1051.5 302.5ZM1054.5 299.5L1061.5 292.5L1068.5 299.5L1061.5 306.5ZM1064.5 304.5L1071.5 297.5L1078.5 304.5L1071.5 311.5ZM1082.5 332.5L1089.5 325.5L1096.5 332.5L1089.5 339.5ZM1092.5 344.5L1099.5 337.5L1106.5 344.5L1099.5 351.5ZM1101.5 352.5L1108.5 345.5L1115.5 352.5L1108.5 359.5ZM1111.5 359.5L1118.5 352.5L1125.5 359.5L1118.5 366.5ZM1121.5 365.5L1128.5 358.5L1135.5 365.5L1128.5 372.5ZM1131.5 370.5L1138.5 363.5L1145.5 370.5L1138.5 377.5ZM1142.5 374.5L1149.5 367.5L1156.5 374.5L1149.5 381.5ZM1152.5 378.5L1159.5 371.5L1166.5 378.5L1159.5 385.5ZM1169.5 402.5L1176.5 395.5L1183.5 402.5L1176.5 409.5ZM1179.5 411.5L1186.5 404.5L1193.5 411.5L1186.5 418.5ZM1189.5 418.5L1196.5 411.5L1203.5 418.5L1196.5 425.5ZM1199.5 424.5L1206.5 417.5L1213.5 424.5L1206.5 431.5ZM1210.5 429.5L1217.5 422.5L1224.5 429.5L1217.5 436.5ZM1221.5 434.5L1228.5 427.5L1235.5 434.5L1228.5 441.5ZM1231.5 437.5L1238.5 430.5L1245.5 437.5L1238.5 444.5ZM1241.5 440.5L1248.5 433.5L1255.5 440.5L1248.5 447.5ZM1258.5 459.5L1265.5 452.5L1272.5 459.5L1265.5 466.5ZM1269.5 466.5L1276.5 459.5L1283.5 466.5L1276.5 473.5ZM1279.5 472.5L1286.5 465.5L1293.5 472.5L1286.5 479.5ZM1289.5 478.5L1296.5 471.5L1303.5 478.5L1296.5 485.5ZM1299.5 481.5L1306.5 474.5L1313.5 481.5L1306.5 488.5ZM1308.5 484.5L1315.5 477.5L1322.5 484.5L1315.5 491.5ZM1318.5 487.5L1325.5 480.5L1332.5 487.5L1325.5 494.5ZM1328.5 489.5L1335.5 482.5L1342.5 489.5L1335.5 496.5ZM1347.5 509.5L1354.5 502.5L1361.5 509.5L1354.5 516.5ZM1357.5 514.5L1364.5 507.5L1371.5 514.5L1364.5 521.5ZM1368.5 524.5L1375.5 517.5L1382.5 524.5L1375.5 531.5ZM1380.5 524.5L1387.5 517.5L1394.5 524.5L1387.5 531.5ZM1390.5 528.5L1397.5 521.5L1404.5 528.5L1397.5 535.5ZM1400.5 530.5L1407.5 523.5L1414.5 530.5L1407.5 537.5ZM1410.5 530.5L1417.5 523.5L1424.5 530.5L1417.5 537.5ZM1421.5 530.5L1428.5 523.5L1435.5 530.5L1428.5 537.5Z"/></g>
<path d="M190 547H305V517H306V487H408V434H409V427H514V394H515V367H612V307H708V253H709V247H812V187H899V231H900V247H995V307H1082V367H1170V427H1259V487H1347V529H1348V547H1431" fill="none" stroke="#f00" stroke-width="2" stroke-linejoin="miter" shape-rendering="crispEdges"/>
</svg></body></html>
